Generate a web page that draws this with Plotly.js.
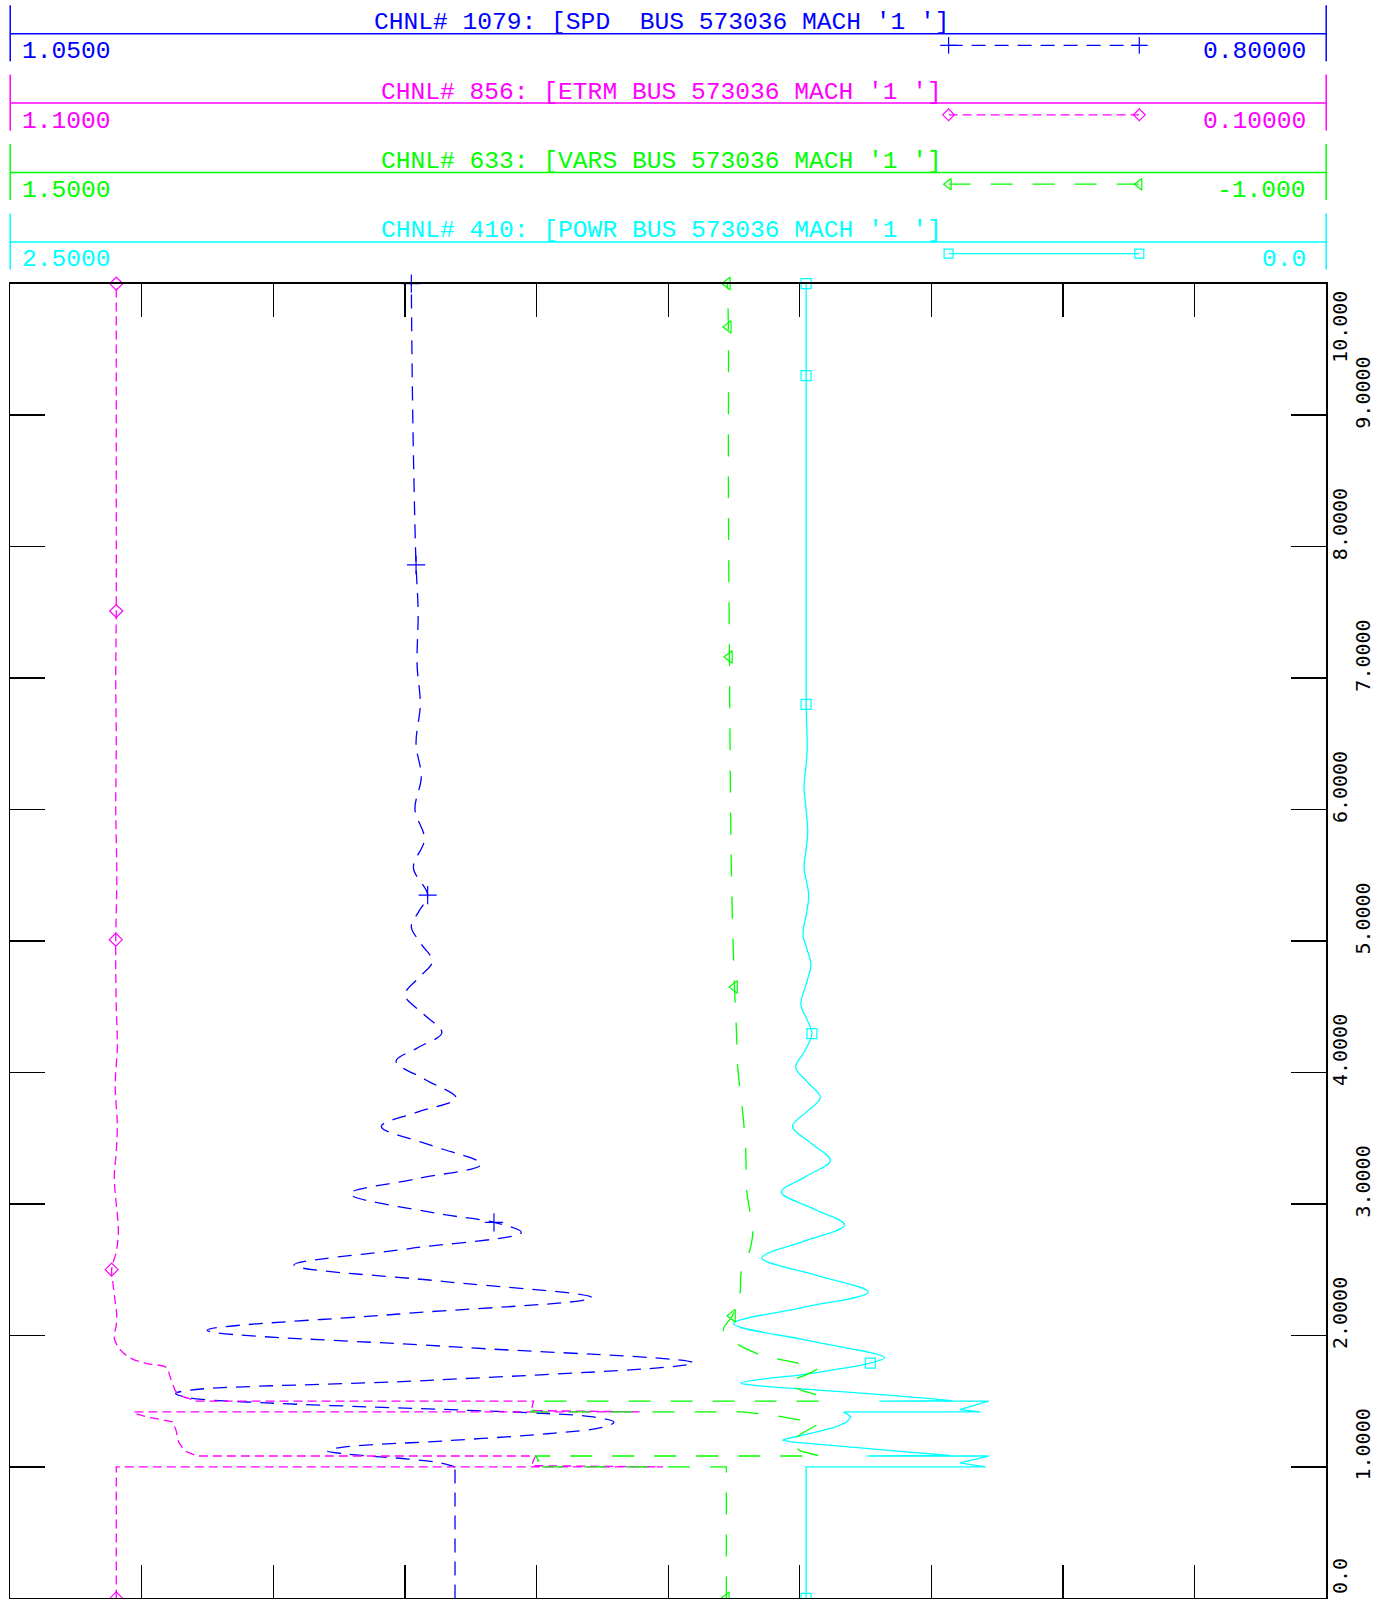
<!DOCTYPE html>
<html>
<head>
<meta charset="utf-8">
<script src="https://cdn.plot.ly/plotly-3.0.1.min.js"></script>
<style>
html,body{margin:0;padding:0;background:#ffffff;overflow:hidden;}
#chart{width:1377px;height:1599px;}
</style>
</head>
<body>
<div id="chart"></div>
<script>
// ---------------- DATA ----------------
// Channel titles and scale labels (left value / right value of each channel's axis)
const channelTitles = [
  "CHNL# 1079: [SPD \u00a0BUS 573036 MACH '1 ']",
  "CHNL# 856: [ETRM BUS 573036 MACH '1 ']",
  "CHNL# 633: [VARS BUS 573036 MACH '1 ']",
  "CHNL# 410: [POWR BUS 573036 MACH '1 ']"
];
const scaleLeftLabels  = ["1.0500", "1.1000", "1.5000", "2.5000"];
const scaleRightLabels = ["0.80000", "0.10000", "-1.000", "0.0"];

// channel axis ranges [left, right]
const spdRange  = [1.05, 0.80];
const etrmRange = [1.10, 0.10];
const varsRange = [1.50, -1.00];
const powrRange = [2.50, 0.00];

// time axis ticks
const timeTicks = [0, 1, 2, 3, 4, 5, 6, 7, 8, 9, 10];
const timeTickLabels = ["0.0", "1.0000", "2.0000", "3.0000", "4.0000", "5.0000",
                        "6.0000", "7.0000", "8.0000", "9.0000", "10.000"];
const faultStartTime = 1.0;

// CHNL 1079: SPD
const spdTime = [0, 1.0, 1.03, 1.06, 1.081, 1.10, 1.12, 1.135, 1.153, 1.20,
  1.254, 1.30, 1.34, 1.38, 1.406, 1.431, 1.457, 1.487, 1.52, 1.545,
  1.558, 1.584, 1.66, 1.791, 1.915, 2.039, 2.163, 2.287, 2.411, 2.535,
  2.659, 2.783, 2.86, 2.93, 3.078, 3.19, 3.302, 3.445, 3.589, 3.70,
  3.806, 3.945, 4.085, 4.19, 4.302, 4.445, 4.589, 4.717, 4.845, 4.977,
  5.109, 5.229, 5.349, 5.558, 5.775, 6.0, 6.25, 6.5, 6.8, 7.1,
  7.5, 7.86, 8.5, 9.2, 10];
const spdValue = [0.9655, 0.9655, 0.9682, 0.9744, 0.9812, 0.9866, 0.9897, 0.9888, 0.9864, 0.9667,
  0.9475, 0.9376, 0.9353, 0.9392, 0.9481, 0.9634, 0.9822, 1.0014, 1.0151, 1.0180,
  1.0186, 1.0159, 0.9696, 0.9202, 0.9665, 1.0126, 0.9762, 0.9395, 0.9678, 0.9961,
  0.9744, 0.9529, 0.9581, 0.9692, 0.9855, 0.9731, 0.9605, 0.9700, 0.9795, 0.9725,
  0.9653, 0.9711, 0.9767, 0.9725, 0.9680, 0.9715, 0.9750, 0.9725, 0.9698, 0.9719,
  0.9738, 0.9723, 0.9707, 0.9734, 0.9713, 0.9731, 0.9719, 0.9729, 0.9721, 0.9727,
  0.9725, 0.9729, 0.9733, 0.9736, 0.9738];
const spdMarkerTimes = [2.86, 5.349, 7.86, 10];

// CHNL 856: ETRM
const etrmTime = [0, 1.0, 1.0, 1.01, 1.05, 1.083, 1.083, 1.122, 1.19, 1.28,
  1.343, 1.38, 1.41, 1.419, 1.419, 1.429, 1.47, 1.5, 1.5, 1.52,
  1.533, 1.567, 1.685, 1.756, 1.786, 1.824, 1.89, 1.98, 2.08, 2.17,
  2.27, 2.41, 2.50, 2.65, 2.8, 3.0, 3.2, 3.4, 3.6, 3.9,
  4.2, 4.5, 4.8, 5.01, 5.5, 6.0, 6.5, 7.0, 7.51, 8.5, 10];
const etrmValue = [1.0194, 1.0194, 0.6039, 0.7039, 0.7023, 0.7008, 0.9581, 0.9674, 0.9721, 0.9740,
  0.9767, 0.9961, 1.0062, 1.0062, 0.6217, 0.7039, 0.7031, 0.7023, 0.9612, 0.9636,
  0.9682, 0.9736, 0.9785, 0.9814, 0.9961, 1.0078, 1.0163, 1.0209, 1.0194, 1.0191,
  1.0204, 1.0221, 1.0229, 1.0191, 1.0178, 1.0194, 1.0209, 1.0194, 1.0186, 1.0202,
  1.0186, 1.0194, 1.0198, 1.0198, 1.0190, 1.0198, 1.0194, 1.0198, 1.0194, 1.0194, 1.0194];
const etrmMarkerTimes = [0, 2.50, 5.01, 7.51, 10];

// CHNL 633: VARS
const varsTime = [0, 1.0, 1.0, 1.02, 1.05, 1.083, 1.083, 1.12, 1.18, 1.25,
  1.32, 1.34, 1.36, 1.39, 1.419, 1.419, 1.44, 1.5, 1.5, 1.55,
  1.6, 1.64, 1.70, 1.75, 1.79, 1.83, 1.87, 1.95, 2.04, 2.15,
  2.3, 2.5, 2.65, 2.8, 2.95, 3.1, 3.4, 3.7, 4.05, 4.3,
  4.65, 5.5, 7.16, 8.5, 9.67, 10];
const varsValue = [0.1395, 0.1395, 0.5116, 0.5078, 0.4961, 0.5019, -0.0388, -0.0020, 0.0194, -0.0020,
  -0.0330, -0.0310, 0.0039, 0.0465, 0.1085, 0.5116, 0.5039, 0.5058, -0.0485, -0.0310,
  0.0077, 0.0232, -0.0116, -0.0330, 0.0039, 0.0523, 0.0853, 0.1240, 0.1453, 0.1279,
  0.1143, 0.1105, 0.0950, 0.0891, 0.0950, 0.1008, 0.1027, 0.1085, 0.1182, 0.1202,
  0.1240, 0.1298, 0.1337, 0.1357, 0.1357, 0.1376];
const varsMarkerTimes = [0, 2.15, 4.65, 7.16, 9.67, 10];

// CHNL 410: POWR
const powrTime = [0, 1.0, 1.0, 1.031, 1.083, 1.083, 1.087, 1.12, 1.16, 1.19,
  1.203, 1.22, 1.26, 1.30, 1.34, 1.38, 1.40, 1.419, 1.419, 1.436,
  1.5, 1.5, 1.504, 1.54, 1.58, 1.62, 1.636, 1.66, 1.70, 1.736,
  1.79, 1.83, 1.96, 2.09, 2.21, 2.33, 2.46, 2.59, 2.715, 2.84,
  2.965, 3.09, 3.21, 3.33, 3.46, 3.59, 3.70, 3.81, 3.925, 4.04,
  4.16, 4.295, 4.40, 4.52, 4.67, 4.82, 4.935, 5.05, 5.195, 5.34,
  5.45, 5.56, 5.695, 5.83, 6.0, 6.18, 6.3, 6.45, 6.80, 7.5,
  8.5, 9.30, 10];
const powrValue = [0.988, 0.988, 0.647, 0.696, 0.641, 0.872, 0.715, 0.814, 0.930, 1.017,
  1.033, 1.019, 0.973, 0.934, 0.911, 0.903, 0.909, 0.917, 0.657, 0.696,
  0.641, 0.849, 0.711, 0.814, 0.950, 1.085, 1.112, 1.085, 0.998, 0.940,
  0.866, 0.839, 0.983, 1.126, 0.998, 0.870, 0.971, 1.072, 0.993, 0.915,
  0.975, 1.035, 0.988, 0.942, 0.978, 1.014, 0.987, 0.961, 0.985, 1.008,
  0.991, 0.977, 0.986, 0.998, 0.988, 0.979, 0.986, 0.994, 0.988, 0.983,
  0.987, 0.992, 0.988, 0.985, 0.988, 0.992, 0.989, 0.986, 0.988, 0.988,
  0.988, 0.988, 0.988];
const powrMarkerTimes = [0, 1.79, 4.295, 6.80, 9.30, 10];

// ---------------- LAYOUT HELPERS ----------------
const W = 1377, H = 1599;
const px = x => x / W;           // page pixel -> paper x
const py = y => 1 - y / H;       // page pixel -> paper y
const PLOT_L = 10.2, PLOT_R = 1326.2, PLOT_T = 283.6, PLOT_B = 1598.4;

const colors = ["#0000ff", "#ff00ff", "#00ff00", "#00ffff"];
const dashes = ["14px,9px", "9px,5px", "22px,20px", "solid"];
const symbols = ["cross-thin-open", "diamond-open", "triangle-left-open", "square-open"];
const msizes = [13, 10, 11, 10];
const axesIds = ["x2", "x3", "x4", "x"];
const series = [
  {t: spdTime,  v: spdValue,  m: spdMarkerTimes},
  {t: etrmTime, v: etrmValue, m: etrmMarkerTimes},
  {t: varsTime, v: varsValue, m: varsMarkerTimes},
  {t: powrTime, v: powrValue, m: powrMarkerTimes}
];

const traces = [];
series.forEach((s, k) => {
  // straight segments up to the last switching instant, smooth curve afterwards
  let split = 0;
  for (let i = 1; i < s.t.length; i++) if (s.t[i] === s.t[i - 1]) split = i + 1;
  if (split === 0) split = s.t.indexOf(faultStartTime);
  const lineBase = {color: colors[k], width: 1.3, dash: dashes[k]};
  traces.push({type: 'scatter', mode: 'lines', x: s.v.slice(0, split + 1), y: s.t.slice(0, split + 1),
    xaxis: axesIds[k], yaxis: 'y', line: Object.assign({shape: 'linear'}, lineBase), hoverinfo: 'skip'});
  traces.push({type: 'scatter', mode: 'lines', x: s.v.slice(split), y: s.t.slice(split),
    xaxis: axesIds[k], yaxis: 'y', line: Object.assign({shape: 'spline', smoothing: 1}, lineBase), hoverinfo: 'skip'});
  const mx = [], my = [];
  s.m.forEach(mt => { const i = s.t.indexOf(mt); if (i >= 0) { mx.push(s.v[i]); my.push(mt); } });
  traces.push({type: 'scatter', mode: 'markers', x: mx, y: my, xaxis: axesIds[k], yaxis: 'y',
    cliponaxis: false, hoverinfo: 'skip',
    marker: {symbol: symbols[k], size: msizes[k], color: colors[k], line: {color: colors[k], width: 1.2}}});
});

// header legend samples (decoration, on an auxiliary axis pair in the header band)
const headerLineY = [33.7, 103.1, 172.5, 241.9];
headerLineY.forEach((ly, k) => {
  traces.push({type: 'scatter', mode: 'lines+markers', x: [0, 1], y: [ly + 11.7, ly + 11.7],
    xaxis: 'x5', yaxis: 'y2', cliponaxis: false, hoverinfo: 'skip',
    line: {color: colors[k], width: 1.3, dash: dashes[k]},
    marker: {symbol: symbols[k], size: msizes[k] - 1, color: colors[k], line: {color: colors[k], width: 1.2}}});
});

const headerFont = {family: "Liberation Mono, DejaVu Sans Mono, monospace", size: 24.6};
const shapes = [];
const annotations = [];
headerLineY.forEach((ly, k) => {
  shapes.push({type: 'line', xref: 'paper', yref: 'paper', x0: px(PLOT_L), x1: px(PLOT_R), y0: py(ly), y1: py(ly),
    line: {color: colors[k], width: 1.5}});
  shapes.push({type: 'line', xref: 'paper', yref: 'paper', x0: px(PLOT_L), x1: px(PLOT_L), y0: py(ly - 28.5), y1: py(ly + 27.5),
    line: {color: colors[k], width: 1.5}});
  shapes.push({type: 'line', xref: 'paper', yref: 'paper', x0: px(PLOT_R), x1: px(PLOT_R), y0: py(ly - 28.5), y1: py(ly + 27.5),
    line: {color: colors[k], width: 1.5}});
  annotations.push({xref: 'paper', yref: 'paper', x: px(661.5), y: py(ly - 11), xanchor: 'center', yanchor: 'middle',
    text: channelTitles[k], showarrow: false, font: Object.assign({color: colors[k]}, headerFont)});
  annotations.push({xref: 'paper', yref: 'paper', x: px(20), y: py(ly + 18), xanchor: 'left', yanchor: 'middle',
    text: scaleLeftLabels[k], showarrow: false, font: Object.assign({color: colors[k]}, headerFont)});
  annotations.push({xref: 'paper', yref: 'paper', x: px(1308), y: py(ly + 18), xanchor: 'right', yanchor: 'middle',
    text: scaleRightLabels[k], showarrow: false, font: Object.assign({color: colors[k]}, headerFont)});
});

// time tick labels (rotated, staggered), kept inside the plot's vertical extent
const pxPerSec = (PLOT_B - PLOT_T) / 10;
timeTicks.forEach((tv, i) => {
  const label = timeTickLabels[i];
  const half = label.length * 12.1 / 2;
  const tickPx = PLOT_B - tv * pxPerSec;
  let center = tickPx - 22.4;
  center = Math.max(center, PLOT_T + 7 + half);
  center = Math.min(center, PLOT_B - half);
  annotations.push({xref: 'paper', yref: 'y', x: px(i % 2 === 0 ? 1340 : 1363), y: tv,
    yshift: -(center - tickPx), xanchor: 'center', yanchor: 'middle', textangle: -90,
    text: label, showarrow: false,
    font: {family: "DejaVu Sans Mono, monospace", size: 20, color: '#000000'}});
});

const hiddenAxis = r => ({overlaying: 'x', range: r, visible: false, showgrid: false, zeroline: false, fixedrange: true});

const layout = {
  width: W, height: H,
  margin: {l: 0, r: 0, t: 0, b: 0, pad: 0},
  paper_bgcolor: '#ffffff', plot_bgcolor: '#ffffff',
  showlegend: false,
  xaxis: {domain: [px(PLOT_L), px(PLOT_R)], range: powrRange, tick0: 0, dtick: Math.abs(powrRange[0] - powrRange[1]) / 10,
    ticks: 'inside', ticklen: 33, tickwidth: 1.3, tickcolor: '#000000',
    showline: true, linecolor: '#000000', linewidth: 1.5, mirror: 'ticks',
    showticklabels: false, showgrid: false, zeroline: false, anchor: 'y'},
  xaxis2: hiddenAxis(spdRange),
  xaxis3: hiddenAxis(etrmRange),
  xaxis4: hiddenAxis(varsRange),
  yaxis: {domain: [py(PLOT_B), py(PLOT_T)], range: [0, 10], tick0: 0, dtick: 1,
    ticks: 'inside', ticklen: 35, tickwidth: 1.3, tickcolor: '#000000',
    showline: true, linecolor: '#000000', linewidth: 1.5, mirror: 'ticks',
    showticklabels: false, showgrid: false, zeroline: false, anchor: 'x'},
  xaxis5: {domain: [px(948.6), px(1139.3)], range: [0, 1], visible: false, anchor: 'y2'},
  yaxis2: {domain: [py(265), py(15)], range: [265, 15], visible: false, anchor: 'x5'},
  shapes: shapes,
  annotations: annotations
};

Plotly.newPlot('chart', traces, layout, {displayModeBar: false, staticPlot: true});
</script>
</body>
</html>
